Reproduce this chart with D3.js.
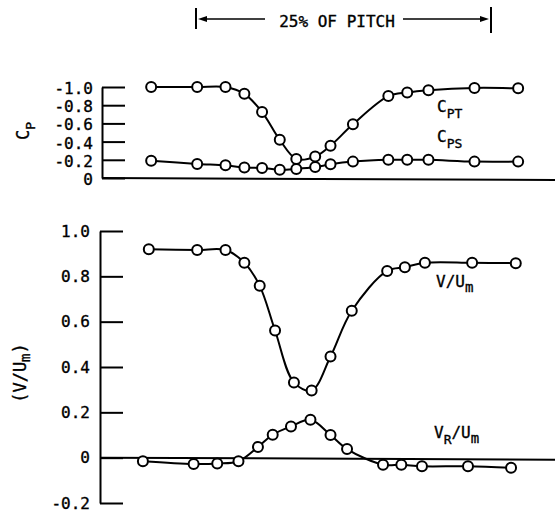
<!DOCTYPE html>
<html>
<head>
<meta charset="utf-8">
<script src="https://cdn.jsdelivr.net/npm/d3@7"></script>
<style>
  body { margin: 0; background: #fff; }
  svg text { font-family: "DejaVu Sans Mono", monospace; fill: #000; stroke: #000; stroke-width: 0.35px; }
</style>
</head>
<body>
<div id="chart"></div>
<script>
// x positions are in percent of pitch (bracket at top spans 0..25)
const topX = [-3.8, 0.1, 2.5, 4.1, 5.6, 7.1, 8.5, 10.1, 11.4, 13.3, 16.3, 17.9, 19.7, 23.6, 27.3];
const cpt = [-1.0, -1.0, -1.0, -0.925, -0.725, -0.42, -0.21, -0.235, -0.355, -0.59, -0.9, -0.94, -0.965, -0.99, -0.985];
const cps = [-0.19, -0.155, -0.14, -0.115, -0.11, -0.09, -0.10, -0.12, -0.15, -0.18, -0.20, -0.20, -0.20, -0.18, -0.18];

const velX = [-4.0, 0.1, 2.5, 4.1, 5.4, 6.7, 8.3, 9.8, 11.4, 13.2, 16.2, 17.7, 19.4, 23.4, 27.1];
const vUm = [0.92, 0.916, 0.916, 0.86, 0.758, 0.561, 0.332, 0.296, 0.446, 0.648, 0.824, 0.84, 0.86, 0.86, 0.858];

const vrX = [-4.5, -0.2, 1.8, 3.6, 5.25, 6.5, 8.05, 9.7, 11.4, 12.8, 15.85, 17.4, 19.15, 23.05, 26.7];
const vrUm = [-0.016, -0.028, -0.026, -0.016, 0.047, 0.101, 0.138, 0.167, 0.10, 0.038, -0.031, -0.031, -0.038, -0.038, -0.045];

const topTicks = [-1.0, -0.8, -0.6, -0.4, -0.2, 0];
const botTicks = [1.0, 0.8, 0.6, 0.4, 0.2, 0, -0.2];

const W = 555, H = 516;
const svg = d3.select('#chart').append('svg')
    .attr('width', W)
    .attr('height', H);

const x = d3.scaleLinear().domain([0, 25]).range([196, 491]);
const yTop = d3.scaleLinear().domain([0, -1.0]).range([178, 87]);
const yBot = d3.scaleLinear().domain([-0.2, 1.0]).range([503, 231]);

const fmt = d => d === 0 ? '0' : d.toFixed(1);

// Top panel axis
const topAxis = svg.append('g')
    .attr('transform', 'translate(102,0)')
    .call(d3.axisLeft(yTop).tickValues(topTicks).tickFormat(fmt)
        .tickSize(-23).tickSizeOuter(0).tickPadding(9));

// Bottom panel axis
const botAxis = svg.append('g')
    .attr('transform', 'translate(100,0)')
    .call(d3.axisLeft(yBot).tickValues(botTicks).tickFormat(fmt)
        .tickSize(-23).tickSizeOuter(0).tickPadding(10));

[topAxis, botAxis].forEach(g => {
    g.select('.domain').attr('stroke', '#000').attr('stroke-width', 2);
    g.selectAll('.tick line').attr('stroke', '#000').attr('stroke-width', 2);
    g.selectAll('.tick text')
        .attr('font-family', '"DejaVu Sans Mono", monospace')
        .attr('font-size', 16)
        .attr('fill', '#000');
});
topAxis.selectAll('.tick text').attr('dy', '0.4em');

// horizontal zero lines
svg.append('line')
    .attr('x1', 102).attr('x2', W)
    .attr('y1', yTop(0)).attr('y2', yTop(0) + 2)
    .attr('stroke', '#000').attr('stroke-width', 2);
svg.append('line')
    .attr('x1', 100).attr('x2', W)
    .attr('y1', yBot(0)).attr('y2', yBot(0) + 2)
    .attr('stroke', '#000').attr('stroke-width', 2);

// series
function drawSeries(xs, ys, yScale) {
    const pts = xs.map((v, i) => [v, ys[i]]);
    const line = d3.line()
        .x(d => x(d[0]))
        .y(d => yScale(d[1]))
        .curve(d3.curveCatmullRom.alpha(0.5));
    svg.append('path')
        .datum(pts)
        .attr('d', line)
        .attr('fill', 'none')
        .attr('stroke', '#000')
        .attr('stroke-width', 2);
    svg.append('g').selectAll('circle')
        .data(pts)
        .join('circle')
        .attr('cx', d => x(d[0]))
        .attr('cy', d => yScale(d[1]))
        .attr('r', 5)
        .attr('fill', '#fff')
        .attr('stroke', '#000')
        .attr('stroke-width', 2);
}

drawSeries(topX, cps, yTop);
drawSeries(topX, cpt, yTop);
drawSeries(vrX, vrUm, yBot);
drawSeries(velX, vUm, yBot);

// series labels
function subLabel(px, py, main, sub, rest, sub2) {
    const t = svg.append('text').attr('x', px).attr('y', py).attr('font-size', 16);
    t.append('tspan').text(main);
    t.append('tspan').attr('font-size', 13).attr('dy', 6).text(sub);
    if (rest) {
        t.append('tspan').attr('font-size', 16).attr('dy', -6).text(rest);
        t.append('tspan').attr('font-size', 14).attr('dy', 5).text(sub2);
    }
    return t;
}
subLabel(437, 112, 'C', 'PT');
subLabel(437, 142, 'C', 'PS');

const vl = svg.append('text').attr('x', 436).attr('y', 287).attr('font-size', 16);
vl.append('tspan').text('V/U');
vl.append('tspan').attr('font-size', 14).attr('dy', 5).text('m');

subLabel(434, 438, 'V', 'R', '/U', 'm');

// y axis titles
const cp = svg.append('text')
    .attr('transform', 'translate(29,140) rotate(-90)')
    .attr('font-size', 17);
cp.append('tspan').text('C');
cp.append('tspan').attr('font-size', 13).attr('dy', 6).text('P');

const vt = svg.append('text')
    .attr('transform', 'translate(26,373) rotate(-90)')
    .attr('text-anchor', 'middle')
    .attr('font-size', 17);
vt.append('tspan').text('(V/U');
vt.append('tspan').attr('font-size', 14).attr('dy', 4).text('m');
vt.append('tspan').attr('dy', -4).text(')');

// 25% of pitch bracket
const bracket = svg.append('g');
const by = 19;
bracket.append('line').attr('x1', x(0)).attr('x2', x(0)).attr('y1', 8).attr('y2', 29)
    .attr('stroke', '#000').attr('stroke-width', 2);
bracket.append('line').attr('x1', x(25)).attr('x2', x(25)).attr('y1', 7).attr('y2', 33)
    .attr('stroke', '#000').attr('stroke-width', 2);
bracket.append('line').attr('x1', x(0) + 8).attr('x2', 265).attr('y1', by).attr('y2', by)
    .attr('stroke', '#000').attr('stroke-width', 1.5);
bracket.append('line').attr('x1', 403).attr('x2', x(25) - 8).attr('y1', by).attr('y2', by)
    .attr('stroke', '#000').attr('stroke-width', 1.5);
bracket.append('path')
    .attr('d', `M${x(0) + 2},${by} L${x(0) + 11},${by - 3} L${x(0) + 11},${by + 3} Z`)
    .attr('fill', '#000');
bracket.append('path')
    .attr('d', `M${x(25) - 2},${by} L${x(25) - 11},${by - 3} L${x(25) - 11},${by + 3} Z`)
    .attr('fill', '#000');
bracket.append('text')
    .attr('x', 337).attr('y', 27)
    .attr('text-anchor', 'middle')
    .attr('font-size', 16)
    .text('25% OF PITCH');
</script>
</body>
</html>
